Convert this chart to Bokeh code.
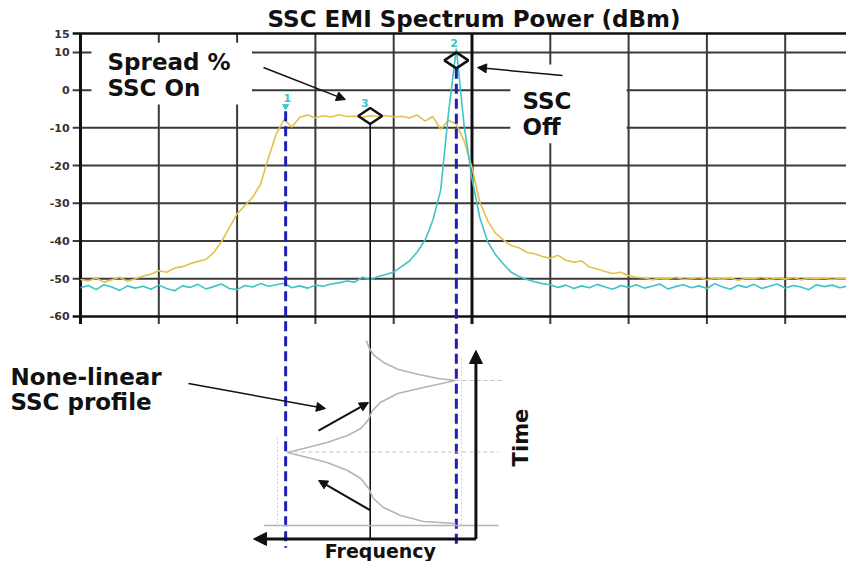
import math
from bokeh.plotting import figure
from bokeh.models import Range1d, Arrow, NormalHead
from bokeh.core.properties import value
from bokeh.embed import file_html
from bokeh.resources import INLINE

# ---------------- data ----------------
# frequency axis in screen divisions (10 divisions across the analyser screen)
FREQ_DIV = [round(i * 0.1, 1) for i in range(101)]

SSC_ON_DBM = [
    -50.2, -50.6, -49.8, -50.9, -50.3, -49.6, -50.7, -50.0, -49.3, -48.8,
    -47.9, -48.3, -47.2, -46.8, -46.0, -45.4, -44.9, -43.1, -40.2, -36.5,
    -32.8, -30.6, -28.4, -24.9, -18.0, -11.6, -7.8, -9.8, -7.2, -6.6,
    -7.3, -6.8, -7.1, -6.5, -7.0, -6.9, -7.2, -6.8, -7.0, -6.7,
    -7.1, -6.9, -7.4, -6.6, -8.2, -7.0, -10.4, -8.0, -9.0, -13.5,
    -20.5, -29.8, -34.6, -37.9, -39.7, -41.2, -41.8, -43.0, -43.4, -44.1,
    -44.6, -43.8, -45.1, -45.6, -45.3, -46.9, -47.4, -48.1, -48.6, -48.3,
    -49.2, -49.6, -49.8, -50.3, -49.9, -50.1, -49.6, -50.2, -50.0, -49.7,
    -50.3, -49.9, -50.1, -49.8, -50.4, -49.9, -50.0, -49.6, -50.2, -49.8,
    -50.1, -49.7, -50.3, -49.9, -50.0, -49.8, -50.2, -49.9, -50.1, -49.8,
    -50.0,
]

SSC_OFF_DBM = [
    -52.4, -51.8, -52.9, -51.6, -52.2, -53.1, -51.9, -52.5, -52.0, -52.8,
    -51.7, -52.6, -53.2, -51.9, -52.3, -51.5, -52.7, -52.1, -51.4, -52.6,
    -52.9, -51.8, -52.2, -51.3, -52.0, -51.6, -51.2, -52.4, -51.9, -52.5,
    -51.7, -52.0, -51.4, -51.1, -50.6, -50.9, -49.6, -50.3, -49.4, -48.9,
    -48.2, -46.8, -45.3, -42.9, -39.8, -34.5, -26.5, -6.0, 11.0, -9.5,
    -23.5, -33.8, -40.2, -43.6, -46.1, -48.3, -49.4, -50.2, -50.8, -51.3,
    -51.6, -52.3, -51.7, -52.6, -51.9, -52.4, -51.5, -52.2, -52.8, -51.8,
    -52.3, -51.6, -52.5, -52.0, -51.4, -52.7, -52.1, -51.6, -52.4, -51.9,
    -52.6, -51.3, -52.2, -52.8, -51.7, -52.3, -51.5, -52.6, -52.0, -51.4,
    -52.5, -51.8, -52.2, -52.9, -51.6, -52.1, -51.7, -52.4, -51.9, -52.3,
    -51.8,
]

Y_TICKS = [15, 10, 0, -10, -20, -30, -40, -50, -60]
Y_TICK_LABELS = ["15", "10", "0", "-10", "-20", "-30", "-40", "-50", "-60"]
X_GRID_INNER = [1, 2, 3, 4, 6, 7, 8, 9]
X_GRID_CENTER = [5]

MARKER_LABELS = ["1", "2", "3"]
MARKER_FREQ = [2.62, 4.80, 3.70]
MARKER_DBM = [-4.6, 7.9, -6.85]

# non-linear SSC profile: frequency (divisions) vs time (periods)
PROFILE_FREQ = [3.65, 3.69, 3.75, 3.87, 4.06, 4.32, 4.57, 4.79, 4.38, 4.05,
                3.83, 3.73, 3.67, 3.58, 3.41, 3.15, 2.90, 2.64, 2.90, 3.15,
                3.41, 3.58, 3.68, 3.74, 3.87, 4.09, 4.38, 4.79]
PROFILE_TIME = [1.280, 1.224, 1.175, 1.126, 1.077, 1.042, 1.014, 1.000, 0.951, 0.909,
                0.846, 0.790, 0.720, 0.664, 0.615, 0.566, 0.531, 0.497, 0.462, 0.427,
                0.371, 0.315, 0.245, 0.175, 0.112, 0.056, 0.014, 0.000]

# ---------------- layout ----------------
X_RANGE = (-1.0217, 9.7829)
Y_RANGE = (-124.99, 23.777)
T_RANGE = (-0.2657, 3.6573)
AXIS_T = -0.108

INK = "#111111"
GRID = "#3a3a3a"
YELLOW = "#e2c24a"
CYAN = "#3cc4c8"
BLUE = "#1f1fb4"
GREY = "#b4b4b4"
FONT = value("DejaVu Sans")


def t2db(t):
    return Y_RANGE[0] + (t - T_RANGE[0]) * (Y_RANGE[1] - Y_RANGE[0]) / (T_RANGE[1] - T_RANGE[0])


p = figure(width=846, height=561, x_range=Range1d(*X_RANGE), y_range=Range1d(*Y_RANGE),
           x_axis_type=None, y_axis_type=None, toolbar_location=None,
           output_backend="svg", min_border=0, outline_line_color=None)
p.extra_y_ranges = {"time": Range1d(*T_RANGE)}

# grid (with outward tick stubs)
inner_y = [v for v in Y_TICKS if v not in (Y_TICKS[0], Y_TICKS[-1])]
p.segment(x0=[-0.1] * len(inner_y), x1=[10] * len(inner_y), y0=inner_y, y1=inner_y,
          line_color=GRID, line_width=2)
p.segment(x0=X_GRID_INNER, x1=X_GRID_INNER, y0=[Y_TICKS[-1] - 2] * len(X_GRID_INNER),
          y1=[Y_TICKS[0]] * len(X_GRID_INNER), line_color=GRID, line_width=2)
p.segment(x0=X_GRID_CENTER, x1=X_GRID_CENTER, y0=[Y_TICKS[-1] - 2], y1=[Y_TICKS[0]],
          line_color=INK, line_width=3)
# frame border: top, bottom, left
p.segment(x0=[-0.1, -0.1], x1=[10, 10], y0=[Y_TICKS[0], Y_TICKS[-1]],
          y1=[Y_TICKS[0], Y_TICKS[-1]], line_color=INK, line_width=2.5)
p.segment(x0=[0], x1=[0], y0=[Y_TICKS[-1] - 2], y1=[Y_TICKS[0]], line_color=INK, line_width=3)

p.text(x=[-0.14] * len(Y_TICKS), y=Y_TICKS, text=Y_TICK_LABELS, text_font=FONT,
       text_font_style="bold", text_font_size="11px", text_color="#333333",
       text_align="right", text_baseline="middle")

# white label boxes cut into the grid
p.quad(left=[0.14, 5.49], right=[2.19, 6.975], top=[12.6, 6.8], bottom=[-3.8, -14.1],
       fill_color="white", line_color=None)

# spectra
p.line(FREQ_DIV, SSC_ON_DBM, line_color=YELLOW, line_width=1.6)
p.line(FREQ_DIV, SSC_OFF_DBM, line_color=CYAN, line_width=1.6)

# marker drop lines
line_bottom = t2db(-0.17)
p.segment(x0=[MARKER_FREQ[0], MARKER_FREQ[1]], x1=[MARKER_FREQ[0], MARKER_FREQ[1]],
          y0=[MARKER_DBM[0] - 1.0, MARKER_DBM[1] - 2.2], y1=[line_bottom, line_bottom],
          line_color=BLUE, line_width=3, line_dash="10 5")
p.segment(x0=[MARKER_FREQ[2]], x1=[MARKER_FREQ[2]], y0=[MARKER_DBM[2] - 2.1],
          y1=[t2db(AXIS_T)], line_color=INK, line_width=1.6)

# markers
p.scatter(x=MARKER_FREQ[1:], y=MARKER_DBM[1:], marker="diamond", angle=math.pi / 2,
          size=24, fill_color=None, line_color=INK, line_width=2.5)
p.scatter(x=[MARKER_FREQ[0]], y=[MARKER_DBM[0] + 0.3], marker="inverted_triangle", size=6,
          fill_color=CYAN, line_color=CYAN)
p.text(x=[MARKER_FREQ[0] + 0.02, MARKER_FREQ[1] - 0.03, MARKER_FREQ[2] - 0.07],
       y=[MARKER_DBM[0] + 2.6, MARKER_DBM[1] + 4.5, MARKER_DBM[2] + 3.4],
       text=MARKER_LABELS, text_font=FONT, text_font_style="bold", text_font_size="11px",
       text_color=CYAN, text_align="center", text_baseline="middle")

# title and annotations
p.text(x=[5.026], y=[19.0], text=["SSC EMI Spectrum Power (dBm)"], text_font=FONT,
       text_font_style="bold", text_font_size="23px", text_color=INK,
       text_align="center", text_baseline="middle")
p.text(x=[0.345, 0.345, 5.645, 5.645], y=[7.6, 0.7, -2.9, -9.7],
       text=["Spread %", "SSC On", "SSC", "Off"], text_font=FONT, text_font_style="bold",
       text_font_size="23px", text_color=INK, text_align="left", text_baseline="middle")

# ---------------- profile diagram (time range) ----------------
p.segment(x0=[4.79, 2.64], x1=[5.40, 5.34], y0=[1.0, 0.5], y1=[1.0, 0.5],
          line_color="#c4c4c4", line_width=1, line_dash="4 3", y_range_name="time")
p.segment(x0=[2.34], x1=[5.34], y0=[-0.014], y1=[-0.014], line_color=GREY,
          line_width=1.5, y_range_name="time")
p.segment(x0=[2.516, 4.866], x1=[2.516, 4.866], y0=[0.6, 1.154], y1=[-0.014, -0.014],
          line_color="#d6d6a8", line_width=1, line_dash="2 2", y_range_name="time")
p.line(PROFILE_FREQ, PROFILE_TIME, line_color=GREY, line_width=1.6, y_range_name="time")

p.text(x=[-0.894, -0.894], y=[1.021, 0.853], text=["None-linear", "SSC profile"],
       text_font=FONT, text_font_style="bold", text_font_size="23px", text_color=INK,
       text_align="left", text_baseline="middle", y_range_name="time")
p.text(x=[3.83], y=[-0.19], text=["Frequency"], text_font=FONT, text_font_style="bold",
       text_font_size="19px", text_color=INK, text_align="center",
       text_baseline="middle", y_range_name="time")
p.text(x=[5.632], y=[0.601], text=["Time"], angle=math.pi / 2, text_font=FONT,
       text_font_style="bold", text_font_size="21px", text_color=INK,
       text_align="center", text_baseline="middle", y_range_name="time")


def arrow(x0, y0, x1, y1, width, head, rng="default"):
    p.add_layout(Arrow(end=NormalHead(size=head, fill_color=INK, line_color=INK, line_width=1),
                       x_start=x0, y_start=y0, x_end=x1, y_end=y1,
                       line_color=INK, line_width=width, y_range_name=rng))


# frequency / time axes of the diagram
arrow(5.05, AXIS_T, 2.21, AXIS_T, 3, 13, "time")
arrow(5.05, AXIS_T, 5.05, 1.21, 3, 13, "time")
# pointers
arrow(2.337, 6.0, 3.384, -2.5, 1.5, 9)
arrow(6.156, 3.9, 5.07, 6.0, 1.5, 9)
arrow(1.379, 0.979, 3.129, 0.804, 1.5, 9, "time")
arrow(3.04, 0.650, 3.678, 0.846, 2, 9, "time")
arrow(3.704, 0.091, 3.04, 0.301, 2, 9, "time")

open("out.html", "w").write(file_html(p, INLINE))
